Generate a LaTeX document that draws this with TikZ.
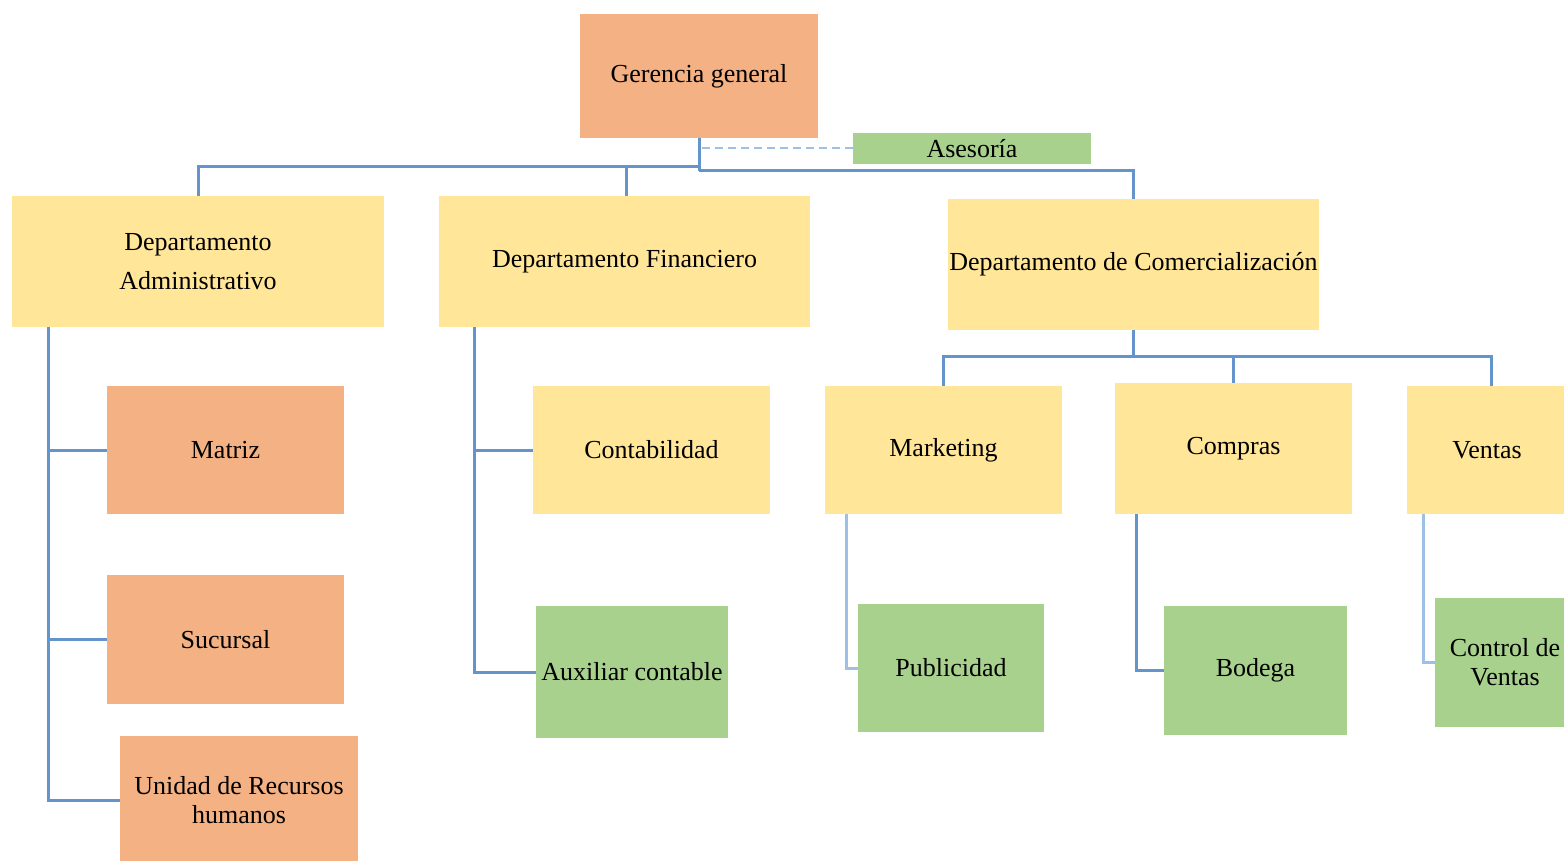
\documentclass[tikz,border=0pt]{standalone}
\usepackage{fontspec}
\setmainfont{Liberation Serif}
\begin{document}
\begin{tikzpicture}[x=1pt,y=-1pt,
  box/.style={rectangle,inner sep=0pt,align=center,font=\fontsize{26}{29}\selectfont},
  salmon/.style={box,fill=boxsalmon},
  sand/.style={box,fill=boxsand},
  leaf/.style={box,fill=boxleaf},
  conn/.style={draw=linkblue,line width=3pt},
  connlight/.style={draw=linklight,line width=3pt},
  assist/.style={draw=linklight,line width=2pt,dashed,dash pattern=on 8pt off 5pt}]
\definecolor{boxsalmon}{HTML}{F4B183}
\definecolor{boxsand}{HTML}{FFE699}
\definecolor{boxleaf}{HTML}{A9D18E}
\definecolor{linkblue}{HTML}{6593CC}
\definecolor{linklight}{HTML}{9DC0E4}

\fill[white] (0,0) rectangle (1564,861);
\useasboundingbox (0,0) rectangle (1564,861);

% top level
\node[salmon,minimum width=238,minimum height=124] (ger) at (699,76) {Gerencia general};
\node[leaf,minimum width=238,minimum height=31] (ases) at (972,148.5) {Asesoría};

% departments
\node[sand,minimum width=372,minimum height=131] (da) at (198,261.5) {Departamento\\[10pt]Administrativo};
\node[sand,minimum width=371,minimum height=131] (df) at (624.5,261.5) {Departamento Financiero};
\node[sand,minimum width=371,minimum height=131] (dc) at (1133.5,264.5) {Departamento de Comercialización};

% administrative units
\node[salmon,minimum width=237,minimum height=128] (mat) at (225.5,450) {Matriz};
\node[salmon,minimum width=237,minimum height=129] (suc) at (225.5,639.5) {Sucursal};
\node[salmon,minimum width=238,minimum height=128] (uni) at (239,800) {Unidad de Recursos\\humanos};

% finance units
\node[sand,minimum width=237,minimum height=128] (cont) at (651.5,450) {Contabilidad};
\node[leaf,minimum width=192,minimum height=132] (aux) at (632,672) {Auxiliar contable};

% commercial units
\node[sand,minimum width=237,minimum height=128] (mkt) at (943.5,450) {Marketing};
\node[sand,minimum width=237,minimum height=131] (com) at (1233.5,448.5) {Compras};
\node[sand,minimum width=160,minimum height=128] (ven) at (1487,450) {Ventas};
\node[leaf,minimum width=186,minimum height=128] (pub) at (951,668) {Publicidad};
\node[leaf,minimum width=183,minimum height=129] (bod) at (1255.5,670.5) {Bodega};
\node[leaf,minimum width=140,minimum height=129] (ctl) at (1505,662.5) {Control de\\Ventas};

% general management to departments
\coordinate (busl) at (699,167);
\coordinate (busr) at (699,171);
\draw[assist] ([xshift=3]ger.south |- ases.west) -- (ases.west);
\draw[conn] (ger.south) -- (busr);
\draw[conn] (busl) -| (da.north);
\draw[conn] (busl) -| ([xshift=1.5]df.north);
\draw[conn] (busr) -| (dc.north);

% administrative branch
\draw[conn] ([xshift=37]da.south west) |- (mat.west);
\draw[conn] ([xshift=37]da.south west) |- (suc.west);
\draw[conn] ([xshift=37]da.south west) |- (uni.west);

% finance branch
\draw[conn] ([xshift=36]df.south west) |- (cont.west);
\draw[conn] ([xshift=36]df.south west) |- (aux.west);

% commercial branch
\coordinate (cbus) at (1133.5,356);
\draw[conn] (dc.south) -- (cbus);
\draw[conn] (cbus) -| (mkt.north);
\draw[conn] (cbus) -| (com.north);
\draw[conn] (cbus) -| ([xshift=4]ven.north);
\draw[connlight] ([xshift=22]mkt.south west) |- (pub.west);
\draw[conn] ([xshift=22]com.south west) |- (bod.west);
\draw[connlight] ([xshift=17]ven.south west) |- (ctl.west);
\end{tikzpicture}
\end{document}
